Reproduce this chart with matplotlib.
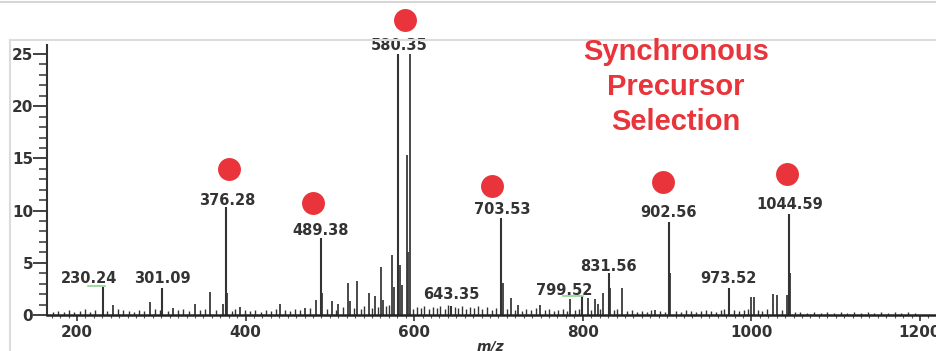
import matplotlib
matplotlib.use("Agg")
import matplotlib.pyplot as plt
from matplotlib.lines import Line2D
from matplotlib.ticker import MultipleLocator

# ---- data -------------------------------------------------------------
label_mz = [230.24, 301.09, 376.28, 489.38, 580.35, 643.35, 703.53, 799.52,
            831.56, 902.56, 973.52, 1044.59]
label_int = [2.7, 2.6, 10.3, 7.4, 25.0, 0.9, 9.3, 1.8, 4.0, 8.9, 2.6, 9.7]
label_text = ["230.24", "301.09", "376.28", "489.38", "580.35", "643.35",
              "703.53", "799.52", "831.56", "902.56", "973.52", "1044.59"]

other_mz = [243, 287, 314, 340, 358, 373, 377.5, 393, 441, 470, 483, 490.5,
            502, 510, 521, 524, 532, 546, 553, 561, 563, 574, 575.5, 583,
            586, 591, 592.5, 595, 705, 715, 723, 749, 785, 806, 814, 818,
            824, 832.5, 846, 886, 904, 1000, 1003, 1026, 1030, 1042, 1046]
other_int = [1.0, 1.2, 0.7, 1.1, 2.2, 1.1, 2.1, 0.8, 1.1, 0.7, 1.4, 2.1,
             1.3, 1.1, 3.1, 1.3, 3.3, 2.1, 1.8, 4.6, 1.4, 5.7, 2.7, 4.8,
             2.9, 15.3, 6.0, 25.0, 3.1, 1.6, 1.0, 1.0, 1.5, 1.6, 1.5, 1.1,
             2.1, 2.6, 2.6, 0.5, 4.0, 1.7, 1.7, 2.0, 1.9, 1.9, 4.0]

noise_mz = [172, 178, 184, 190, 196, 203, 209, 215, 221, 236, 249, 255, 262,
            268, 274, 280, 293, 298, 308, 320, 326, 333, 346, 352, 365, 384,
            388, 399, 405, 411, 418, 424, 430, 436, 447, 453, 459, 464, 476,
            496, 507, 515, 528, 537, 541, 550, 557, 567, 570, 599, 603, 608,
            612, 617, 622, 627, 631, 636, 640, 648, 652, 657, 661, 666, 671,
            676, 681, 686, 692, 697, 710, 719, 728, 733, 738, 744, 755, 760,
            766, 771, 777, 781, 791, 795, 810, 821, 837, 841, 852, 858, 864,
            870, 876, 881, 892, 897, 910, 916, 922, 928, 934, 940, 946, 952,
            958, 964, 968, 979, 985, 991, 996, 1008, 1013, 1019, 1036, 1052,
            1058, 1066, 1074, 1082, 1090, 1098, 1106, 1114, 1122, 1130, 1138,
            1146, 1154, 1162, 1170, 1178, 1186, 1194]
noise_int = [0.3, 0.4, 0.3, 0.5, 0.3, 0.4, 0.6, 0.3, 0.5, 0.4, 0.6, 0.5, 0.4,
             0.3, 0.5, 0.4, 0.6, 0.5, 0.4, 0.5, 0.6, 0.4, 0.5, 0.6, 0.5, 0.4,
             0.6, 0.5, 0.4, 0.5, 0.3, 0.5, 0.4, 0.6, 0.5, 0.4, 0.6, 0.5, 0.7,
             0.6, 0.5, 0.8, 0.7, 0.6, 0.9, 0.7, 0.8, 0.9, 1.0, 0.6, 0.8, 0.7,
             0.9, 0.6, 0.8, 0.7, 0.9, 0.6, 1.0, 0.8, 0.7, 0.9, 0.6, 0.8, 0.7,
             0.9, 0.6, 0.8, 0.5, 0.7, 0.6, 0.5, 0.4, 0.6, 0.5, 0.7, 0.5, 0.6,
             0.4, 0.5, 0.6, 0.4, 0.5, 0.6, 0.5, 0.6, 0.5, 0.6, 0.4, 0.5, 0.3,
             0.4, 0.3, 0.5, 0.4, 0.3, 0.4, 0.3, 0.5, 0.4, 0.3, 0.4, 0.5, 0.4,
             0.3, 0.5, 0.6, 0.5, 0.4, 0.5, 0.6, 0.5, 0.4, 0.6, 0.5, 0.3,
             0.3, 0.2, 0.3, 0.2, 0.3, 0.2, 0.3, 0.2, 0.3, 0.2, 0.3,
             0.2, 0.3, 0.2, 0.3, 0.2, 0.3, 0.2]

precursor_text = "Synchronous\nPrecursor\nSelection"
x_ticks = [200, 400, 600, 800, 1000, 1200]
y_ticks = [0, 5, 10, 15, 20, 25]

# ---- layout ------------------------------------------------------------
label_pos_x = [214, 301.4, 378, 489.4, 582, 644, 704, 777.5, 830, 902, 973, 1046]
label_pos_y = [3.45, 3.45, 10.92, 8.05, 25.77, 1.92, 10.06, 2.39, 4.69, 9.77, 3.45, 10.54]
dot_x = [380, 480, 589, 692, 895, 1042]
dot_y = [13.98, 10.73, 28.26, 12.36, 12.74, 13.5]

RED = "#e8343a"
DARK = "#333333"

fig = plt.figure(figsize=(9.37, 3.51), dpi=100)
ax = fig.add_axes([47 / 937, 36 / 351, 890 / 937, 270 / 351])
ax.set_xlim(164.4, 1220.2)
ax.set_ylim(0, 25.86)

ax.vlines(noise_mz, 0, noise_int, colors=DARK, lw=1.0)
ax.vlines(other_mz, 0, other_int, colors="#3a3a3a", lw=1.3)
ax.vlines(label_mz, 0, label_int, colors=DARK, lw=1.5)

for t, x, y in zip(label_text, label_pos_x, label_pos_y):
    ax.text(x, y, t, ha="center", va="center", fontsize=10.5,
            fontweight="bold", color=DARK, family="DejaVu Sans", clip_on=False)

# green annotation ticks
ax.plot([213, 233], [2.78, 2.78], color="#8fd48f", lw=1.2)
ax.plot([776.5, 800.2], [1.82, 1.82], color="#8fd48f", lw=1.2)

ax.plot(dot_x, dot_y, "o", ms=16.5, color=RED, mec="none",
        clip_on=False, zorder=6)

for s in ["top", "right"]:
    ax.spines[s].set_visible(False)
ax.spines["left"].set_color(DARK)
ax.spines["left"].set_linewidth(1.5)
ax.spines["bottom"].set_color("#222222")
ax.spines["bottom"].set_linewidth(1.8)

ax.set_yticks(y_ticks)
ax.yaxis.set_minor_locator(MultipleLocator(1))
ax.set_xticks(x_ticks)
ax.xaxis.set_minor_locator(MultipleLocator(10))
ax.tick_params(axis="y", which="major", length=10, width=1.3, color=DARK,
               pad=0, labelsize=11, labelcolor=DARK)
ax.tick_params(axis="y", which="minor", length=6, width=1.1, color=DARK)
ax.tick_params(axis="x", which="major", length=4, width=1.2, color=DARK,
               pad=3, labelsize=11, labelcolor=DARK)
ax.tick_params(axis="x", which="minor", length=2.5, width=0.8, color="#555555")
for lab in ax.get_xticklabels() + ax.get_yticklabels():
    lab.set_fontweight("bold")
    lab.set_family("DejaVu Sans")

fig.text(490 / 937, 1 - 347 / 351, "m/z", ha="center", va="center",
         fontsize=10, style="italic", fontweight="bold", color=DARK,
         family="DejaVu Sans")

fig.text(676 / 937, 1 - 87 / 351, precursor_text, ha="center", va="center",
         fontsize=21, fontweight="bold", color=RED, family="Liberation Sans",
         linespacing=1.3)

# screenshot frame lines
fig.add_artist(Line2D([0, 1], [1 - 1.5 / 351] * 2, color="#d5d5d5", lw=1.5,
                      transform=fig.transFigure))
fig.add_artist(Line2D([10 / 937, 1], [1 - 40 / 351] * 2, color="#dcdcdc",
                      lw=1.5, transform=fig.transFigure))
fig.add_artist(Line2D([10 / 937, 10 / 937], [0, 1 - 40 / 351], color="#dcdcdc",
                      lw=1.5, transform=fig.transFigure))

fig.savefig("out.png", dpi=100)
